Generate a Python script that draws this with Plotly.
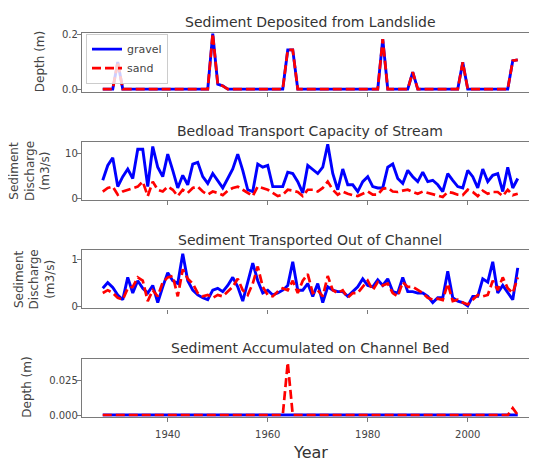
import plotly.graph_objects as go

W, H = 537, 465

years = [1927, 1928, 1929, 1930, 1931, 1932, 1933, 1934, 1935, 1936, 1937, 1938, 1939,
         1940, 1941, 1942, 1943, 1944, 1945, 1946, 1947, 1948, 1949, 1950, 1951, 1952,
         1953, 1954, 1955, 1956, 1957, 1958, 1959, 1960, 1961, 1962, 1963, 1964, 1965,
         1966, 1967, 1968, 1969, 1970, 1971, 1972, 1973, 1974, 1975, 1976, 1977, 1978,
         1979, 1980, 1981, 1982, 1983, 1984, 1985, 1986, 1987, 1988, 1989, 1990, 1991,
         1992, 1993, 1994, 1995, 1996, 1997, 1998, 1999, 2000, 2001, 2002, 2003, 2004,
         2005, 2006, 2007, 2008, 2009, 2010]

# Sediment deposited from landslide (m) - gravel and sand coincide
landslide_gravel = [0, 0, 0, 0.1, 0,
                    0, 0, 0, 0, 0, 0, 0, 0, 0, 0, 0, 0, 0, 0, 0, 0, 0,
                    0.205, 0.018, 0.012,
                    0, 0, 0, 0, 0, 0, 0, 0, 0, 0, 0, 0,
                    0.145, 0.145,
                    0, 0, 0, 0, 0, 0, 0, 0, 0, 0, 0, 0, 0, 0, 0, 0, 0,
                    0.185,
                    0, 0, 0, 0, 0,
                    0.063,
                    0, 0, 0, 0, 0, 0, 0, 0, 0,
                    0.099,
                    0, 0, 0, 0, 0, 0, 0, 0, 0,
                    0.105, 0.108]
landslide_sand = list(landslide_gravel)

# Bedload transport capacity (m3/s)
capacity_gravel = [4.1, 7.4, 9.1, 2.7, 4.9, 6.6, 4.5, 11.0, 11.0, 2.7, 11.6, 7.0, 4.9,
                   9.9, 6.3, 2.4, 5.2, 3.1, 7.7, 8.1, 4.9, 3.4, 5.6, 4.1, 2.4, 4.5,
                   6.6, 9.9, 6.3, 2.0, 1.6, 7.7, 7.0, 7.4, 2.7, 2.7, 2.7, 5.9, 5.6,
                   3.8, 1.3, 7.4, 6.6, 5.6, 7.0, 12.1, 5.6, 2.0, 6.6, 3.1, 3.1, 1.6,
                   3.8, 4.9, 2.7, 2.4, 2.4, 7.0, 7.7, 4.5, 3.4, 6.3, 4.9, 3.8, 5.9,
                   3.8, 4.1, 3.1, 1.6, 5.6, 4.1, 2.7, 2.4, 6.3, 4.9, 2.4, 6.6, 3.8,
                   5.2, 5.6, 1.6, 7.0, 2.4, 4.5]
capacity_sand = [1.6, 2.4, 2.7, 0.9, 1.6, 2.0, 2.4, 2.7, 3.8, 0.6, 3.8, 2.0, 1.6,
                 2.7, 2.0, 0.6, 2.0, 1.3, 2.4, 2.7, 1.6, 0.9, 1.6, 1.3, 0.8, 1.8,
                 2.4, 2.7, 2.0, 1.3, 0.6, 2.7, 2.4, 2.0, 1.3, 0.6, 0.9, 2.0, 1.8,
                 1.5, 0.6, 2.0, 2.0, 1.6, 2.4, 3.8, 2.0, 0.9, 1.6, 1.1, 0.8, 0.6,
                 1.1, 1.6, 0.9, 0.9, 2.2, 2.4, 1.6, 1.5, 1.8, 2.0, 1.5, 1.1, 1.6,
                 1.3, 1.1, 0.8, 0.4, 1.5, 1.3, 0.9, 0.8, 2.0, 1.5, 0.6, 1.8, 1.1,
                 1.5, 1.5, 0.6, 2.0, 0.8, 1.1]

# Sediment transported out of channel (m3/s)
out_gravel = [0.39, 0.51, 0.41, 0.25, 0.15, 0.62, 0.29, 0.55, 0.39, 0.29, 0.45, 0.09, 0.42,
              0.72, 0.55, 0.49, 1.12, 0.55, 0.35, 0.25, 0.19, 0.15, 0.35, 0.39, 0.32, 0.45,
              0.62, 0.42, 0.12, 0.55, 0.92, 0.55, 0.29, 0.35, 0.25, 0.29, 0.35, 0.45, 0.95,
              0.35, 0.35, 0.49, 0.22, 0.49, 0.09, 0.42, 0.35, 0.32, 0.32, 0.22, 0.32, 0.42,
              0.59, 0.45, 0.42, 0.57, 0.45, 0.59, 0.32, 0.29, 0.62, 0.32, 0.32, 0.29, 0.29,
              0.22, 0.09, 0.19, 0.19, 0.75, 0.19, 0.12, 0.09, 0.02, 0.22, 0.22, 0.59, 0.52,
              0.95, 0.29, 0.45, 0.29, 0.15, 0.82]
out_sand = [0.29, 0.35, 0.29, 0.19, 0.15, 0.39, 0.42, 0.62, 0.55, 0.12, 0.35, 0.22, 0.52,
            0.62, 0.65, 0.22, 0.79, 0.59, 0.49, 0.29, 0.22, 0.25, 0.19, 0.25, 0.22, 0.32,
            0.42, 0.59, 0.35, 0.25, 0.49, 0.85, 0.42, 0.25, 0.22, 0.32, 0.39, 0.35, 0.55,
            0.29, 0.55, 0.69, 0.29, 0.35, 0.22, 0.65, 0.35, 0.29, 0.35, 0.19, 0.29, 0.29,
            0.42, 0.55, 0.35, 0.52, 0.45, 0.49, 0.29, 0.22, 0.52, 0.42, 0.42, 0.35, 0.29,
            0.19, 0.15, 0.17, 0.14, 0.49, 0.12, 0.15, 0.09, 0.05, 0.15, 0.25, 0.22, 0.25,
            0.55, 0.35, 0.62, 0.39, 0.29, 0.62]

# Sediment accumulated on channel bed (m)
bed_gravel = [0, 0, 0, 0, 0, 0, 0, 0, 0, 0, 0, 0, 0,
              0, 0, 0, 0, 0, 0, 0, 0, 0, 0, 0, 0, 0,
              0, 0, 0, 0, 0, 0, 0, 0, 0, 0, 0, 0, 0,
              0, 0, 0, 0, 0, 0, 0, 0, 0, 0, 0, 0, 0,
              0, 0, 0, 0, 0, 0, 0, 0, 0, 0, 0, 0, 0,
              0, 0, 0, 0, 0, 0, 0, 0, 0, 0, 0, 0, 0,
              0, 0, 0, 0, 0, 0]
bed_sand = [0, 0, 0, 0, 0, 0, 0, 0, 0, 0, 0, 0, 0,
            0, 0, 0, 0, 0, 0, 0, 0, 0, 0, 0, 0, 0,
            0, 0, 0, 0, 0, 0, 0, 0, 0, 0, 0, 0.038, 0,
            0, 0, 0, 0, 0, 0, 0, 0, 0, 0, 0, 0, 0,
            0, 0, 0, 0, 0, 0, 0, 0, 0, 0, 0, 0, 0,
            0, 0, 0, 0, 0, 0, 0, 0, 0, 0, 0, 0, 0,
            0, 0, 0, 0, 0.005, 0]

titles = ["Sediment Deposited from Landslide",
          "Bedload Transport Capacity of Stream",
          "Sediment Transported Out of Channel",
          "Sediment Accumulated on Channel Bed"]
ylabels = ["Depth (m)", "Sediment<br>Discharge<br>(m3/s)",
           "Sediment<br>Discharge<br>(m3/s)", "Depth (m)"]
ytickvals = [[0.0, 0.2], [0, 10], [0, 1], [0.0, 0.025]]
yticktext = [["0.0", "0.2"], ["0", "10"], ["0", "1"], ["0.000", "0.025"]]
xtickvals = [1940, 1960, 1980, 2000]
series = [(landslide_gravel, landslide_sand), (capacity_gravel, capacity_sand),
          (out_gravel, out_sand), (bed_gravel, bed_sand)]

# layout geometry (page pixels; the page body has an 8px margin)
OFF = 8
boxes = [(30, 90), (141, 200), (251, 310), (361, 420)]
yranges = [[-0.0098, 0.2085], [-0.3, 12.6], [-0.035, 1.19], [-0.0013, 0.0409]]
ylabel_x = [40, 29, 34, 27]
plot_left = 82
plot_right = 537

FONT = "DejaVu Sans"
AX = "#7a7a7a"


def py(p):
    return 1 - (p - OFF) / H


def px(p):
    return (p - OFF) / W


fig = go.Figure()
layout = dict(width=W, height=H, margin=dict(l=0, r=0, t=0, b=0),
              paper_bgcolor="white", plot_bgcolor="white",
              font=dict(family=FONT, color="#333"),
              showlegend=True)
annotations = []

for i in range(4):
    n = i + 1
    xa = "x" if n == 1 else f"x{n}"
    ya = "y" if n == 1 else f"y{n}"
    g, s = series[i]
    fig.add_trace(go.Scatter(x=years, y=g, mode="lines", name="gravel",
                             line=dict(color="#0000ff", width=2.9),
                             xaxis=xa, yaxis=ya, showlegend=(i == 0)))
    fig.add_trace(go.Scatter(x=years, y=s, mode="lines", name="sand",
                             line=dict(color="#ff0000", width=2.7, dash="9px,4px"),
                             xaxis=xa, yaxis=ya, showlegend=(i == 0)))
    top, bot = boxes[i]
    layout["xaxis" if n == 1 else f"xaxis{n}"] = dict(
        domain=[px(plot_left), px(plot_right)], anchor=ya, range=[1922.85, 2013.85],
        tickvals=xtickvals, showticklabels=(i == 3), ticks="outside", ticklen=4,
        tickcolor=AX, showline=True, mirror=True, linecolor=AX, linewidth=1.4,
        showgrid=False, zeroline=False, ticklabelstandoff=4,
        tickfont=dict(family=FONT, size=10, color="#444"))
    layout["yaxis" if n == 1 else f"yaxis{n}"] = dict(
        domain=[py(bot), py(top)], anchor=xa, range=yranges[i],
        tickvals=ytickvals[i], ticktext=yticktext[i], ticks="outside", ticklen=4,
        tickcolor=AX, showline=True, mirror=False, linecolor=AX, linewidth=1.4,
        showgrid=False, zeroline=False, ticklabelstandoff=-3,
        tickfont=dict(family=FONT, size=10, color="#444"))
    annotations.append(dict(text=titles[i], x=px(310), y=py(top - 11),
                            xref="paper", yref="paper", xanchor="center",
                            yanchor="middle", showarrow=False,
                            font=dict(family=FONT, size=14, color="#333")))
    annotations.append(dict(text=ylabels[i], x=px(ylabel_x[i]), y=py((top + bot) / 2),
                            xref="paper", yref="paper", xanchor="center",
                            yanchor="middle", showarrow=False, textangle=-90,
                            font=dict(family=FONT, size=12, color="#444")))

annotations.append(dict(text="Year", x=px(310), y=py(456), xref="paper", yref="paper",
                        xanchor="center", yanchor="middle", showarrow=False,
                        font=dict(family=FONT, size=16, color="#333")))

layout["annotations"] = annotations
layout["legend"] = dict(x=px(86), y=py(31), xanchor="left", yanchor="top",
                        bgcolor="rgba(255,255,255,0.8)", bordercolor="#cccccc",
                        borderwidth=1, font=dict(family=FONT, size=11, color="#444"),
                        itemwidth=30, tracegroupgap=0)
fig.update_layout(**layout)
fig.write_html("out.html")
